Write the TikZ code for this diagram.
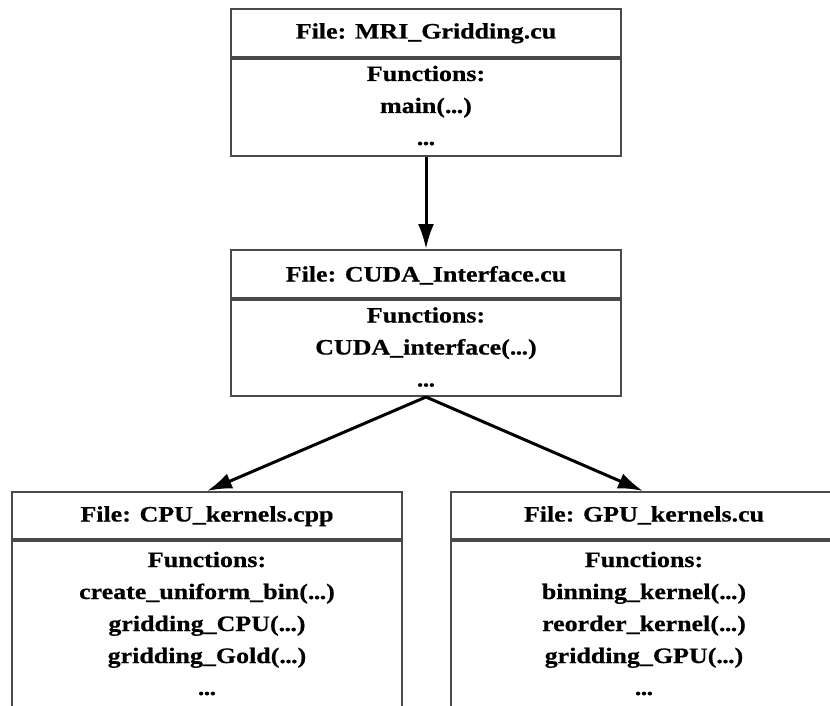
\documentclass[tikz,border=0pt]{standalone}
\usepackage{fontspec}
\setmainfont{Liberation Serif}[FakeStretch=1.18,BoldFeatures={FakeBold=0.6}]
\usetikzlibrary{arrows.meta}
\definecolor{boxgray}{HTML}{4A4A4A}
\newcommand{\dts}{.\kern-0.6pt.\kern-0.6pt.}
\begin{document}
\begin{tikzpicture}[x=1pt,y=-1pt,
  box/.style={draw=boxgray,line width=2pt,minimum width=390pt,inner sep=0pt},
  ttl/.style={font=\fontsize{22}{26}\selectfont\bfseries,inner sep=0pt,anchor=base},
  body/.style={font=\fontsize{22}{32}\selectfont\bfseries,align=center,inner sep=0pt,anchor=base},
  arr/.style={-{Latex[length=25pt,width=16pt]},line width=3pt}]
\useasboundingbox (0,0) rectangle (830,706);
\clip (0,0) rectangle (830,706);
\fill[white] (0,0) rectangle (830,706);
% top box
\node[box,minimum height=48pt] (h1) at (426,33) {};
\node[box,minimum height=97pt,anchor=north] (b1) at (h1.south) {};
\node[ttl] (t1) at (426,38.5) {File: MRI\_Gridding.cu};
\node[body] (f1) at (426,145) {Functions:\\main(\dts)\\\dts};
% middle box
\node[box,minimum height=48pt] (h2) at (426,274) {};
\node[box,minimum height=96pt,anchor=north] (b2) at (h2.south) {};
\node[ttl] (t2) at (426,281.5) {File: CUDA\_Interface.cu};
\node[body] (f2) at (426,386.5) {Functions:\\CUDA\_interface(\dts)\\\dts};
% left box
\node[box,minimum height=47pt] (h3) at (207,515.5) {};
\node[box,minimum height=200pt,anchor=north] (b3) at (h3.south) {};
\node[ttl] (t3) at (207,521.5) {File: CPU\_kernels.cpp};
\node[body] (f3) at (207,695) {Functions:\\create\_uniform\_bin(\dts)\\gridding\_CPU(\dts)\\gridding\_Gold(\dts)\\\dts};
% right box
\node[box,minimum height=47pt] (h4) at (646,515.5) {};
\node[box,minimum height=200pt,anchor=north] (b4) at (h4.south) {};
\node[ttl] (t4) at (644,521.5) {File: GPU\_kernels.cu};
\node[body] (f4) at (644,695) {Functions:\\binning\_kernel(\dts)\\reorder\_kernel(\dts)\\gridding\_GPU(\dts)\\\dts};
% connectors
\draw[arr] (b1.south) -- (h2.north);
\draw[arr] (b2.south) -- (h3.north);
\draw[arr] (b2.south) -- (h4.north -| 643,0);
\end{tikzpicture}
\end{document}
